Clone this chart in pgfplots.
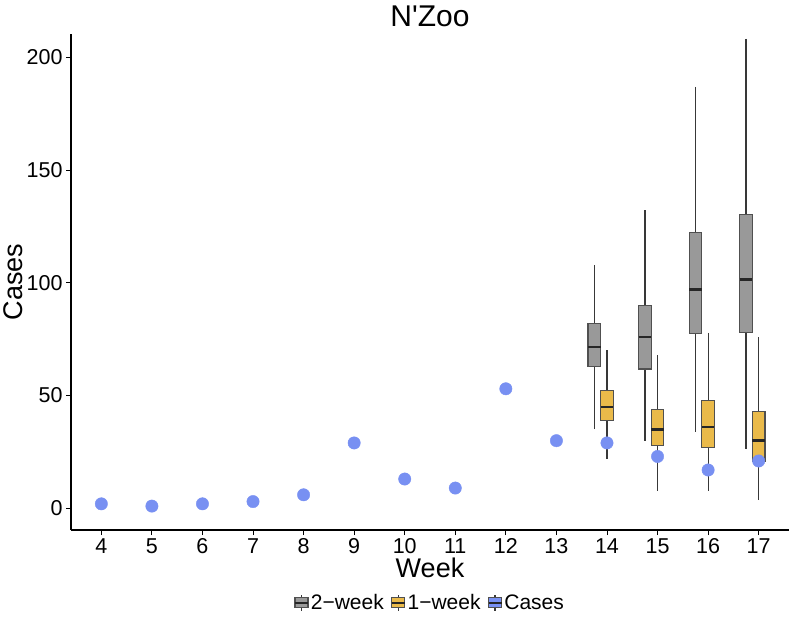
\documentclass[border=0pt]{standalone}
\usepackage{fontspec}
\setmainfont{Liberation Sans}
\newfontfamily\plainfont{Liberation Sans}
\usepackage{pgfplots}
\pgfplotsset{compat=1.18}
\usepgfplotslibrary{statistics}
\definecolor{boxgray}{RGB}{153,153,153}
\definecolor{boxyellow}{RGB}{234,186,74}
\definecolor{dotblue}{RGB}{120,144,242}
\definecolor{edge}{RGB}{80,80,80}
\pgfplotsset{
  bx/.style={forget plot, line width=1.1pt, draw=edge,
    boxplot/draw direction=y,
    boxplot/box extend=0.25, boxplot/whisker extend=0,
    boxplot/every median/.style={draw=black!85, line width=2.4pt},
    boxplot/every whisker/.style={draw=black!78, line width=1.2pt}},
  gbox/.style={bx, fill=boxgray},
  ybox/.style={bx, fill=boxyellow},
}
\begin{document}
\begin{tikzpicture}
\begin{axis}[
  scale only axis, width=718pt, height=496pt,
  xmin=3.4, xmax=17.6, ymin=-9.6, ymax=210.3,
  axis lines*=left,
  axis line style={black, line width=1.1pt},
  xtick={4,...,17}, ytick={0,50,100,150,200},
  tick align=outside, major tick length=5pt,
  tick style={black, line width=0.9pt},
  /pgf/number format/assume math mode=true,
  ticklabel style={font=\fontsize{21.5}{21.5}\selectfont, text=black},
  every axis title shift=0pt,
  title={\plainfont N'Zoo},
  title style={font=\fontsize{30}{30}\selectfont, at={(axis description cs:0.5,1.0161)}, anchor=base},
  xlabel={Week},
  xlabel style={font=\fontsize{27}{27}\selectfont, at={(axis description cs:0.5,-0.0955)}, anchor=base},
  ylabel={Cases},
  ylabel style={font=\fontsize{27}{27}\selectfont, at={(axis description cs:-0.0682,0.5)}, anchor=base, rotate=0},
  legend columns=3,
  legend style={draw=none, fill=none, at={(axis description cs:0.5,-0.147)}, anchor=center,
    font=\fontsize{21}{21}\selectfont,
    /tikz/every even column/.append style={column sep=5pt}},
  legend cell align=left,
]
% 2-week boxes
\addplot[gbox, boxplot prepared={draw position=13.75, lower whisker=35.0, lower quartile=62.7, median=71.4, upper quartile=81.9, upper whisker=107.9}] coordinates {};
\addplot[gbox, boxplot prepared={draw position=14.75, lower whisker=30.0, lower quartile=61.8, median=75.9, upper quartile=90.0, upper whisker=132.1}] coordinates {};
\addplot[gbox, boxplot prepared={draw position=15.75, lower whisker=33.9, lower quartile=77.6, median=97.0, upper quartile=122.2, upper whisker=187.0}] coordinates {};
\addplot[gbox, boxplot prepared={draw position=16.75, lower whisker=26.1, lower quartile=77.9, median=101.5, upper quartile=130.2, upper whisker=208.2}] coordinates {};
% 1-week boxes
\addplot[ybox, boxplot prepared={draw position=14, lower whisker=21.8, lower quartile=39.0, median=44.9, upper quartile=52.1, upper whisker=70.0}] coordinates {};
\addplot[ybox, boxplot prepared={draw position=15, lower whisker=7.7, lower quartile=27.9, median=35.0, upper quartile=44.0, upper whisker=67.9}] coordinates {};
\addplot[ybox, boxplot prepared={draw position=16, lower whisker=7.7, lower quartile=26.9, median=36.0, upper quartile=48.0, upper whisker=77.9}] coordinates {};
\addplot[ybox, boxplot prepared={draw position=17, lower whisker=3.7, lower quartile=20.7, median=30.0, upper quartile=43.0, upper whisker=75.9}] coordinates {};
% cases
\addplot[forget plot, only marks, mark=*, mark size=6.2pt, color=dotblue, mark options={draw=none, fill=dotblue}] coordinates {
(4,2) (5,1) (6,2) (7,3) (8,6) (9,29) (10,13) (11,9) (12,53) (13,30) (14,29) (15,23) (16,17) (17,21)};
% legend
\addlegendimage{legend image code/.code={
  \draw[black!78, line width=1.1pt] (7.5pt,-8pt) -- (7.5pt,8pt);
  \filldraw[fill=boxgray, draw=edge, line width=1.1pt] (1pt,-5pt) rectangle (14pt,5pt);
  \draw[black!85, line width=1.8pt] (1pt,0pt) -- (14pt,0pt);}}
\addlegendentry{2−week}
\addlegendimage{legend image code/.code={
  \draw[black!78, line width=1.1pt] (7.5pt,-8pt) -- (7.5pt,8pt);
  \filldraw[fill=boxyellow, draw=edge, line width=1.1pt] (1pt,-5pt) rectangle (14pt,5pt);
  \draw[black!85, line width=1.8pt] (1pt,0pt) -- (14pt,0pt);}}
\addlegendentry{1−week}
\addlegendimage{legend image code/.code={
  \draw[black!78, line width=1.1pt] (7.5pt,-8pt) -- (7.5pt,8pt);
  \filldraw[fill=dotblue, draw=edge, line width=1.1pt] (1pt,-5pt) rectangle (14pt,5pt);
  \draw[black!85, line width=1.8pt] (1pt,0pt) -- (14pt,0pt);}}
\addlegendentry{Cases}
\end{axis}
\pgfresetboundingbox
\path[use as bounding box] (-71pt,-86pt) rectangle (718pt,530pt);
\end{tikzpicture}
\end{document}
